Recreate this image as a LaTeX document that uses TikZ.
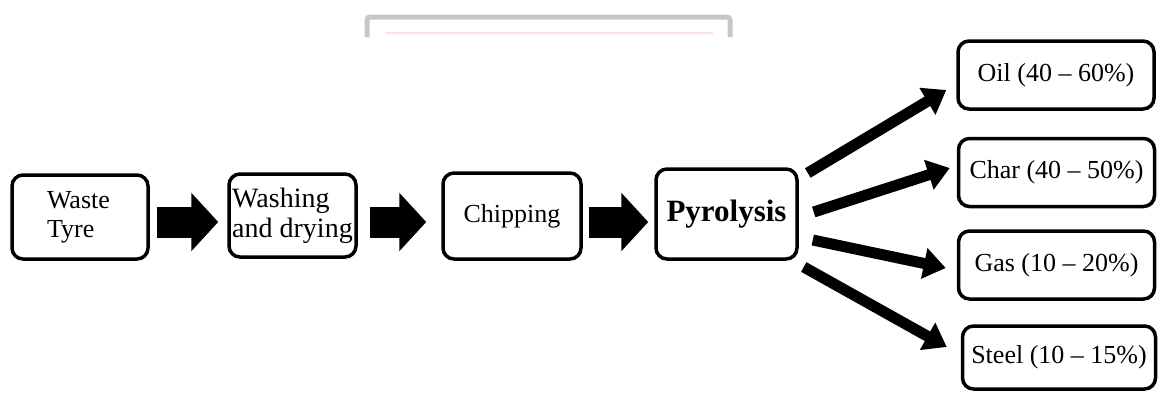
\documentclass[tikz,border=0pt]{standalone}
\usepackage{fontspec}
\setmainfont{Liberation Serif}
\usetikzlibrary{arrows.meta,calc}
\begin{document}
\begin{tikzpicture}[x=1pt,y=-1pt,
  box/.style={draw=black, line width=3.5pt, rounded corners=11pt, inner sep=0pt,
    font=\fontsize{26}{29}\selectfont},
  outbox/.style={box, minimum width=196pt, minimum height=68pt},
  blockarrow/.style={line width=31pt, -{Triangle[length=27pt,width=57pt]}},
  diag/.style={line width=11pt, -{Triangle[length=22pt,width=30pt]}}]
\useasboundingbox (0,0) rectangle (1158,392);
% faded fragment at the top
\draw[line width=5pt, black!22, rounded corners=3pt] (367,37) -- (367,17) -- (730,17) -- (730,37);
\draw[line width=1.5pt, red!12] (385,33) -- (713,33);
% process boxes
\node[box, minimum width=136pt, minimum height=84pt, text width=66pt, inner xsep=35pt, align=left] (tyre) at (80,217) {Waste\\Tyre};
\node[box, minimum width=127pt, minimum height=83pt, align=left, font=\fontsize{28}{30}\selectfont] (wash) at (292.5,215.5) {Washing\\and drying};
\node[box, minimum width=138pt, minimum height=86pt] (chip) at (512,216) {Chipping};
\node[box, minimum width=141pt, minimum height=90pt, font=\fontsize{31}{35}\selectfont\bfseries] (pyro) at (726.5,214) {Pyrolysis};
% products
\node[outbox] (oil) at (1056,75) {Oil (40 -- 60\%)};
\node[outbox] (char) at (1056.5,172.5) {Char (40 -- 50\%)};
\node[outbox] (gas) at (1056.5,265) {Gas (10 -- 20\%)};
\node[outbox, minimum width=193pt, minimum height=63pt] (steel) at (1059,357.5) {Steel (10 -- 15\%)};
% block arrows
\coordinate (mid) at (0,222);
\draw[blockarrow, shorten <=7pt, shorten >=9pt] (tyre.east |- mid) -- (wash.west |- mid);
\draw[blockarrow, shorten <=12pt, shorten >=15pt] (wash.east |- mid) -- (chip.west |- mid);
\draw[blockarrow, shorten <=6pt, shorten >=6pt] (chip.east |- mid) -- (pyro.west |- mid);
% diagonal arrows
\draw[diag] ($(pyro.east)+(9,-41)$) -- ($(oil.west)+(-10,15)$);
\draw[diag] ($(pyro.east)+(15,-2)$) -- ($(char.west)+(-7,-4.5)$);
\draw[diag] ($(pyro.east)+(14,26)$) -- ($(gas.west)+(-11,3)$);
\draw[diag] ($(pyro.east)+(5,53)$) -- ($(steel.west)+(-14,-10.5)$);
\end{tikzpicture}
\end{document}
